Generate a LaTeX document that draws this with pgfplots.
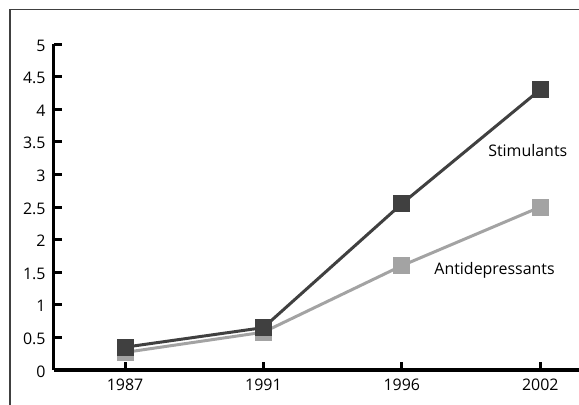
\documentclass[border=0pt]{standalone}
\usepackage{pgfplots}
\pgfplotsset{compat=1.18}
\usepackage{fontspec}
\setmainfont{Open Sans}
\definecolor{stim}{HTML}{404040}
\definecolor{anti}{HTML}{A3A3A3}
\begin{document}
\begin{tikzpicture}
\useasboundingbox (0bp,0bp) rectangle (579bp,405bp);
\draw[line width=1.5bp, color=black!75] (10bp,0bp) -- (10bp,395.5bp) -- (579bp,395.5bp);
\begin{axis}[
  at={(125bp,35bp)}, anchor=origin,
  scale only axis, width=525bp, height=326bp,
  xmin=-0.513, xmax=3.28, ymin=0, ymax=5,
  axis lines=left,
  axis line style={line width=3bp, -},
  xtick={0,1,2,3}, xticklabels={1987,1991,1996,2002},
  ytick={0,0.5,...,5},
  yticklabels={0,0.5,1,1.5,2,2.5,3,3.5,4,4.5,5},
  tick align=inside,
  major tick length=8bp,
  tick style={line width=3bp, black},
  tick label style={font=\fontsize{16}{18}\selectfont},
  xticklabel style={yshift=-5bp},
  yticklabel style={yshift=-1.5bp, xshift=-5bp},
  /pgf/number format/assume math mode=true,
  clip=false,
]
\addplot[anti, line width=3bp, mark=square*, mark size=8bp, mark options={solid, fill=anti, draw=anti, line width=0pt}]
  coordinates {(0,0.27) (1,0.58) (2,1.6) (3,2.5)};
\addplot[stim, line width=3bp, mark=square*, mark size=8bp, mark options={solid, fill=stim, draw=stim, line width=0pt}]
  coordinates {(0,0.35) (1,0.65) (2,2.55) (3,4.3)};
\node[font=\fontsize{16}{18}\selectfont] at (axis cs:2.91,3.36) {Stimulants};
\node[font=\fontsize{16}{18}\selectfont] at (axis cs:2.67,1.53) {Antidepressants};
\end{axis}
\end{tikzpicture}
\end{document}
